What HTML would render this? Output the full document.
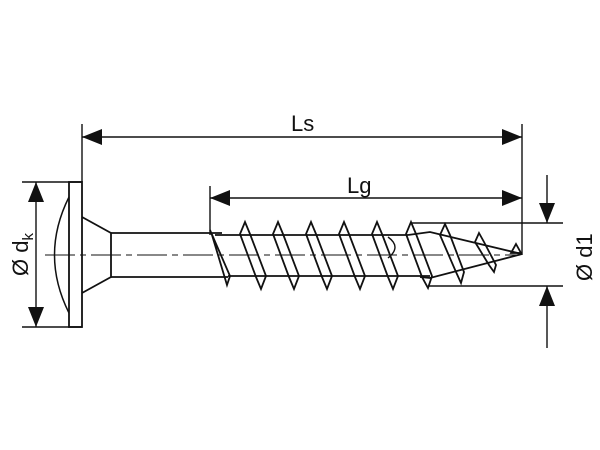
<!DOCTYPE html>
<html><head><style>
html,body{margin:0;padding:0;background:#fff;}
svg{display:block;}
text{font-family:"Liberation Sans",sans-serif;fill:#111;}
</style></head><body>
<svg width="600" height="450" viewBox="0 0 600 450" xmlns="http://www.w3.org/2000/svg">
<g stroke="#111" fill="none" stroke-width="1.4">
<line x1="82" y1="124" x2="82" y2="182"/>
<line x1="522" y1="124" x2="522" y2="255"/>
<line x1="210" y1="186" x2="210" y2="235"/>
<line x1="82" y1="137" x2="522" y2="137"/>
<line x1="210" y1="198" x2="522" y2="198"/>
<line x1="22" y1="182" x2="82" y2="182"/>
<line x1="22" y1="327" x2="82" y2="327"/>
<line x1="36" y1="182" x2="36" y2="327"/>
<line x1="411" y1="223" x2="563" y2="223"/>
<line x1="428" y1="286" x2="563" y2="286"/>
<line x1="547" y1="175" x2="547" y2="223"/>
<line x1="547" y1="286" x2="547" y2="348"/>
<rect x="69" y="182" width="13" height="145" stroke-width="1.8"/>
<path d="M69 197 Q40 255 69 313" stroke-width="1.5"/>
<path d="M82 217 L111 233 L111 277 L82 293" stroke-width="1.8"/>
<line x1="111" y1="233" x2="222" y2="233" stroke-width="1.8"/>
<line x1="111" y1="277" x2="228" y2="277" stroke-width="1.8"/>
<line x1="215" y1="235" x2="408" y2="235" stroke-width="1.8"/>
<line x1="228" y1="276" x2="430" y2="276" stroke-width="1.8"/>
<path d="M408 235 L430 232 L522 254 L430 278 L420 277" stroke-width="1.8"/>
<line x1="45" y1="255" x2="520" y2="255" stroke-dasharray="30,5,6,5" stroke-width="1.1"/>
<path d="M388 237 Q402 247 388 258" stroke-width="1.4"/>
<g stroke-width="1.8" stroke-linejoin="miter">
<path d="M210 230 L230 276 L227 285 L212 235 Z"/>
<path d="M245 222 L250 234 L266 276 L261 289 L256 277 L240 234 Z"/>
<path d="M278 222 L283 234 L299 276 L294 289 L289 277 L273 234 Z"/>
<path d="M311 222 L316 234 L332 276 L327 289 L322 277 L306 234 Z"/>
<path d="M344 222 L349 234 L365 276 L360 289 L355 277 L339 234 Z"/>
<path d="M377 222 L382 234 L398 276 L393 289 L388 277 L372 234 Z"/>
<path d="M411 222 L416 234 L432 276 L428 288 L422 277 L406 234 Z"/>
<path d="M445 224 L450 235 L464 272 L461 283 L456 272 L440 235 Z"/>
<path d="M479 233 L484 242 L496 265 L494 272 L489 265 L475 242 Z"/>
<path d="M516 244 L521 253 L511 253 Z"/>
</g>
</g>
<g fill="#111">
<polygon points="82,137 102,129 102,145"/>
<polygon points="522,137 502,129 502,145"/>
<polygon points="210,198 230,190 230,206"/>
<polygon points="522,198 502,190 502,206"/>
<polygon points="36,182 28,202 44,202"/>
<polygon points="36,327 28,307 44,307"/>
<polygon points="547,223 539,203 555,203"/>
<polygon points="547,286 539,306 555,306"/>
</g>
<text x="291" y="131" font-size="22">Ls</text>
<text x="347" y="193" font-size="22">Lg</text>
<text transform="translate(28,276) rotate(-90)" font-size="22">Ø d<tspan font-size="15" dy="5">k</tspan></text>
<text transform="translate(592,281) rotate(-90)" font-size="22">Ø d1</text>
</svg>
</body></html>
